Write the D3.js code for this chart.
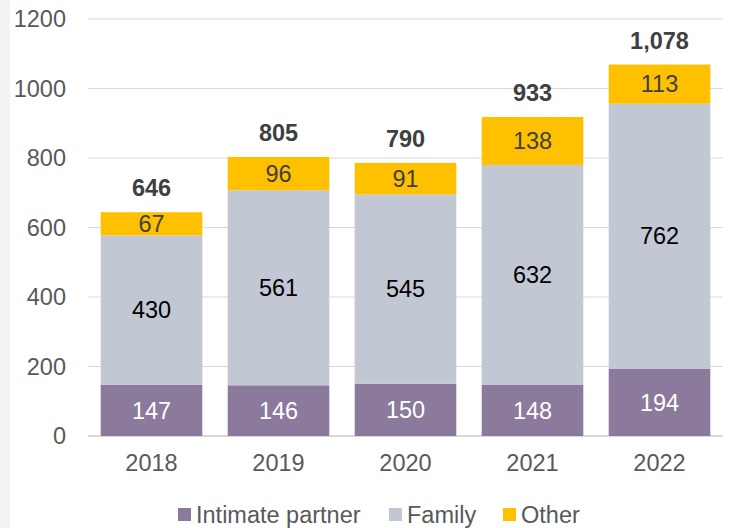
<!DOCTYPE html>
<meta charset="utf-8">
<title>Stacked bars</title>
<script src="https://d3js.org/d3.v7.min.js"></script>
<style>
body { margin: 0; background: #fff; }
svg { display: block; font-family: "Liberation Sans", Arial, sans-serif; }
</style>
<body>
<div id="chart"></div>
<script>
// data
var years = ["2018", "2019", "2020", "2021", "2022"];
var intimate = [147, 146, 150, 148, 194];
var family = [430, 561, 545, 632, 762];
var other = [67, 96, 91, 138, 113];
var totals = [646, 805, 790, 933, 1078];
var yTicks = [0, 200, 400, 600, 800, 1000, 1200];
var seriesNames = ["Intimate partner", "Family", "Other"];
var seriesColors = ["#8B7A9C", "#C1C8D3", "#FFC000"];
var labelColors = ["#ffffff", "#000000", "#404040"];

var W = 732, H = 528;
var svg = d3.select("#chart").append("svg")
  .attr("width", W).attr("height", H);

// light strip on the left edge
svg.append("rect").attr("x", 0).attr("y", 0).attr("width", 10).attr("height", H)
  .attr("fill", "#f3f3f3");

var x = d3.scaleBand().domain(years).range([88, 723]).paddingInner(0.2).paddingOuter(0.1);
var y = d3.scaleLinear().domain([0, 1200]).range([436, 19]);

// gridlines
svg.append("g").selectAll("line").data(yTicks).enter().append("line")
  .attr("x1", 88).attr("x2", 723)
  .attr("y1", function(d) { return y(d); }).attr("y2", function(d) { return y(d); })
  .attr("stroke", "#d9d9d9").attr("stroke-width", function(d) { return d === 0 ? 2 : 1; });

// y axis labels
var yAxis = svg.append("g").attr("transform", "translate(66,0)")
  .call(d3.axisLeft(y).tickValues(yTicks).tickFormat(d3.format("d")).tickSize(0).tickPadding(0));
yAxis.select(".domain").remove();
yAxis.selectAll("text").attr("font-size", "23.5px").attr("fill", "#595959")
  .attr("font-family", "Liberation Sans, Arial, sans-serif");

// x axis labels
var xAxis = svg.append("g").attr("transform", "translate(0,454)")
  .call(d3.axisBottom(x).tickSize(0).tickPadding(0));
xAxis.select(".domain").remove();
xAxis.selectAll("text").attr("font-size", "23.5px").attr("fill", "#595959")
  .attr("font-family", "Liberation Sans, Arial, sans-serif");

// stack
var rows = years.map(function(yr, i) {
  return { year: yr, "Intimate partner": intimate[i], "Family": family[i], "Other": other[i] };
});
var stacked = d3.stack().keys(seriesNames)(rows);

var layers = svg.append("g").selectAll("g").data(stacked).enter().append("g")
  .attr("fill", function(d, i) { return seriesColors[i]; });

layers.selectAll("rect").data(function(d) { return d; }).enter().append("rect")
  .attr("x", function(d) { return x(d.data.year); })
  .attr("width", x.bandwidth())
  .attr("y", function(d) { return y(d[1]); })
  .attr("height", function(d) { return y(d[0]) - y(d[1]); });

// segment labels
stacked.forEach(function(layer, i) {
  svg.append("g").selectAll("text").data(layer).enter().append("text")
    .attr("x", function(d) { return x(d.data.year) + x.bandwidth() / 2; })
    .attr("y", function(d) { return y((d[0] + d[1]) / 2); })
    .attr("dy", "0.35em")
    .attr("text-anchor", "middle")
    .attr("font-size", "23.5px")
    .attr("fill", labelColors[i])
    .text(function(d) { return d[1] - d[0]; });
});

// totals, placed above the top of each stack
var lastLayer = stacked[stacked.length - 1];
svg.append("g").selectAll("text").data(lastLayer).enter().append("text")
  .attr("x", function(d) { return x(d.data.year) + x.bandwidth() / 2; })
  .attr("y", function(d) { return y(d[1]) - 16; })
  .attr("text-anchor", "middle")
  .attr("font-size", "23.5px")
  .attr("font-weight", "bold")
  .attr("fill", "#404040")
  .text(function(d, i) { return d3.format(",")(totals[i]); });

// legend
var legendX = [178, 389, 503];
var legend = svg.append("g").selectAll("g").data(seriesNames).enter().append("g")
  .attr("transform", function(d, i) { return "translate(" + legendX[i] + ",0)"; });
legend.append("rect").attr("x", 0).attr("y", 508).attr("width", 13).attr("height", 13)
  .attr("fill", function(d, i) { return seriesColors[i]; });
legend.append("text").attr("x", 18).attr("y", 523)
  .attr("font-size", "23.5px").attr("fill", "#595959")
  .text(function(d) { return d; });
</script>
</body>
